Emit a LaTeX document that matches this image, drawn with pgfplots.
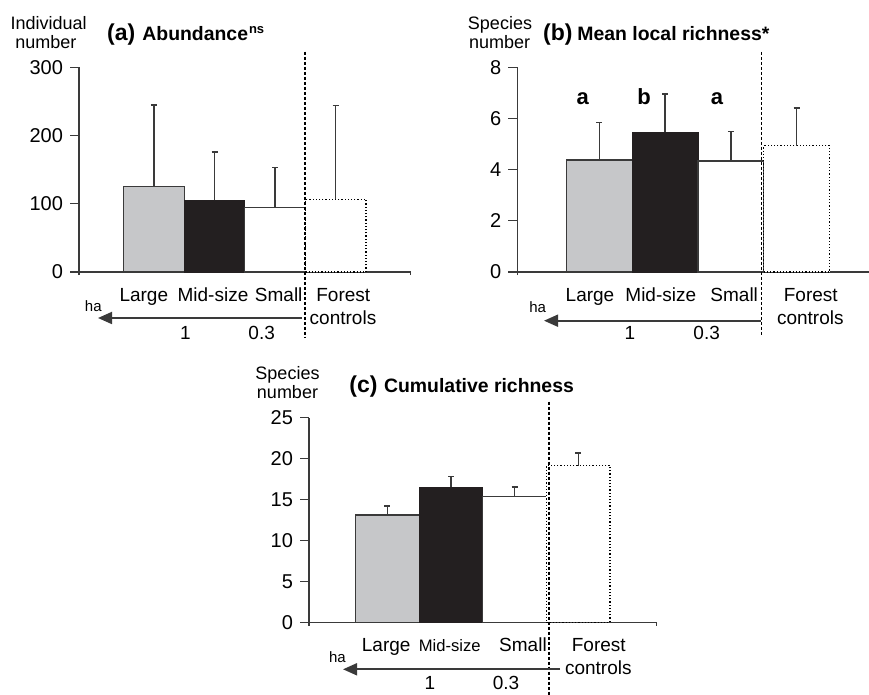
\documentclass[border=0pt]{standalone}
\usepackage{fontspec}
\setmainfont{Liberation Sans}
\usepackage{pgfplots}
\pgfplotsset{compat=1.18}
\usetikzlibrary{arrows.meta}
\definecolor{lg}{HTML}{C6C7C9}
\definecolor{dk}{HTML}{231F20}
\definecolor{ax}{HTML}{3A3A3A}
\newcommand\cat{\fontsize{9.5}{11.5}\selectfont}
\newcommand\ylab{\fontsize{9}{10}\selectfont}
\pgfplotsset{
  panel/.style={
    scale only axis, axis lines=left, axis line style={-, ax, line width=0.65pt},
    ymin=0, xtick=\empty,
    tick align=outside, major tick length=4.5pt, tick style={ax, line width=0.65pt},
    yticklabel style={font=\fontsize{10}{12}\selectfont},
    /pgf/number format/assume math mode=true,
    extra x tick style={major tick length=1.6pt, tick align=outside},
    extra x tick labels={},
    anchor=south west, clip=false,
  },
  bb/.style={ybar, bar width=1, bar shift=0pt, line width=0.6pt},
  errs/.style={error bars/.cd, y dir=plus, y explicit,
    error bar style={solid, ax, line width=0.7pt},
    error mark options={solid, ax, line width=0.8pt, mark size=1.5pt, rotate=90}},
}
\begin{document}
\begin{tikzpicture}
\path[use as bounding box] (0,0) rectangle (434.5pt,-347.5pt);

% ---------- panel a ----------
\begin{axis}[panel, at={(39.5pt,-136pt)}, width=165.85pt, height=102.35pt,
  xmin=-1.238, xmax=4.238, ymax=300, ytick={0,100,200,300}, extra x ticks={-1.238,4.238}]
\addplot[bb, fill=lg, draw=ax, errs] coordinates {(0,125.7) +- (0,119.3)};
\addplot[bb, fill=dk, draw=dk, errs] coordinates {(1,105) +- (0,71)};
\addplot[bb, fill=white, draw=ax, errs] coordinates {(2,94) +- (0,59)};
\addplot[bb, fill=white, draw=black, densely dotted, errs] coordinates {(3,106.6) +- (0,137.4)};
\end{axis}

% ---------- panel b ----------
\begin{axis}[panel, at={(258.65pt,-136pt)}, width=175.85pt, height=102.35pt,
  xmin=-1.246, xmax=4.099, ymax=8, ytick={0,2,4,6,8}, extra x ticks={-1.246}]
\addplot[bb, fill=lg, draw=ax, errs] coordinates {(0,4.38) +- (0,1.46)};
\addplot[bb, fill=dk, draw=dk, errs] coordinates {(1,5.46) +- (0,1.50)};
\addplot[bb, fill=white, draw=ax, errs] coordinates {(2,4.34) +- (0,1.15)};
\addplot[bb, fill=white, draw=black, densely dotted, errs] coordinates {(3,4.93) +- (0,1.49)};
\end{axis}

% ---------- panel c ----------
\begin{axis}[panel, at={(154.5pt,-311.15pt)}, width=173.85pt, height=102.3pt,
  xmin=-1.234, xmax=4.233, ymax=25, ytick={0,5,10,15,20,25}, extra x ticks={-1.234,4.233}]
\addplot[bb, fill=lg, draw=ax, errs] coordinates {(0,13.1) +- (0,1.1)};
\addplot[bb, fill=dk, draw=dk, errs] coordinates {(1,16.5) +- (0,1.3)};
\addplot[bb, fill=white, draw=ax, errs] coordinates {(2,15.4) +- (0,1.1)};
\addplot[bb, fill=white, draw=black, densely dotted, errs] coordinates {(3,19.15) +- (0,1.55)};
\end{axis}

\begin{scope}[x=0.5pt, y=-0.5pt]
% separators
\draw[black, line width=0.7pt, dash pattern=on 1.5pt off 1pt] (305,51.7) -- (305,337);
\draw[black, line width=0.7pt, dash pattern=on 1.5pt off 1pt] (761.7,52) -- (761.7,337);
\draw[black, line width=0.7pt, dash pattern=on 1.5pt off 1pt] (549,401.7) -- (549,695);
% arrows
\draw[ax, line width=0.9pt, -{Triangle[length=7pt,width=6pt]}] (301.7,318) -- (98,318);
\draw[ax, line width=0.9pt, -{Triangle[length=7pt,width=6pt]}] (761,320.7) -- (544,320.7);
\draw[ax, line width=0.9pt, -{Triangle[length=7pt,width=6pt]}] (560,669.3) -- (343,669.3);
% ha
\node[anchor=base, inner sep=0, font=\fontsize{7.5}{9}\selectfont] at (93.3,311.7) {ha};
\node[anchor=base, inner sep=0, font=\fontsize{7.5}{9}\selectfont] at (537.7,312.5) {ha};
\node[anchor=base, inner sep=0, font=\fontsize{7.5}{9}\selectfont] at (337.5,662.7) {ha};

% panel a texts
\node[anchor=base, inner sep=0, font=\ylab] at (48.7,29.3) {Individual};
\node[anchor=base, inner sep=0, font=\ylab] at (45.8,48.3) {number};
\node[anchor=base west, inner sep=0] at (106.7,40.7) {\bfseries\fontsize{11.5}{12}\selectfont (a)\hspace{3.6pt}\fontsize{9.7}{11}\selectfont Abundance\hspace{0.5pt}\raisebox{3.6pt}{\fontsize{6.5}{7}\selectfont ns}};
\node[anchor=base, inner sep=0, font=\cat] at (143.8,301.7) {Large};
\node[anchor=base, inner sep=0, font=\cat] at (213,301.7) {Mid-size};
\node[anchor=base, inner sep=0, font=\cat] at (278.7,301.7) {Small};
\node[anchor=base, inner sep=0, font=\cat] at (343.3,301.7) {Forest};
\node[anchor=base, inner sep=0, font=\cat] at (343,325) {controls};
\node[anchor=base, inner sep=0, font=\cat] at (185.5,339.3) {1};
\node[anchor=base, inner sep=0, font=\cat] at (261.7,339.3) {0.3};

% panel b texts
\node[anchor=base, inner sep=0, font=\ylab] at (500,29.3) {Species};
\node[anchor=base, inner sep=0, font=\ylab] at (499.7,48.3) {number};
\node[anchor=base west, inner sep=0] at (542.7,40.7) {\bfseries\fontsize{11.5}{12}\selectfont (b)\hspace{2.5pt}\fontsize{9.7}{11}\selectfont Mean local richness*};
\node[anchor=base, inner sep=0, font=\bfseries\fontsize{11}{12}\selectfont] at (582.7,104.5) {a};
\node[anchor=base, inner sep=0, font=\bfseries\fontsize{11}{12}\selectfont] at (644,104.5) {b};
\node[anchor=base, inner sep=0, font=\bfseries\fontsize{11}{12}\selectfont] at (717,104.5) {a};
\node[anchor=base, inner sep=0, font=\cat] at (590,301.7) {Large};
\node[anchor=base, inner sep=0, font=\cat] at (660.8,301.7) {Mid-size};
\node[anchor=base, inner sep=0, font=\cat] at (734.2,301.7) {Small};
\node[anchor=base, inner sep=0, font=\cat] at (810.8,301.7) {Forest};
\node[anchor=base, inner sep=0, font=\cat] at (810.3,325) {controls};
\node[anchor=base, inner sep=0, font=\cat] at (630,340) {1};
\node[anchor=base, inner sep=0, font=\cat] at (706.7,340) {0.3};

% panel c texts
\node[anchor=base, inner sep=0, font=\ylab] at (287.5,379.3) {Species};
\node[anchor=base, inner sep=0, font=\ylab] at (287.5,398.3) {number};
\node[anchor=base west, inner sep=0] at (349,392.7) {\bfseries\fontsize{11.5}{12}\selectfont (c)\hspace{3.3pt}\fontsize{9.7}{11}\selectfont Cumulative richness};
\node[anchor=base, inner sep=0, font=\cat] at (386.2,651.7) {Large};
\node[anchor=base, inner sep=0, font=\fontsize{8.3}{10}\selectfont] at (449.8,651.7) {Mid-size};
\node[anchor=base, inner sep=0, font=\cat] at (523,651.7) {Small};
\node[anchor=base, inner sep=0, font=\cat] at (598.8,651.7) {Forest};
\node[anchor=base, inner sep=0, font=\cat] at (598.3,675) {controls};
\node[anchor=base, inner sep=0, font=\cat] at (430,689.3) {1};
\node[anchor=base, inner sep=0, font=\cat] at (506,689.3) {0.3};
\end{scope}
\end{tikzpicture}
\end{document}
